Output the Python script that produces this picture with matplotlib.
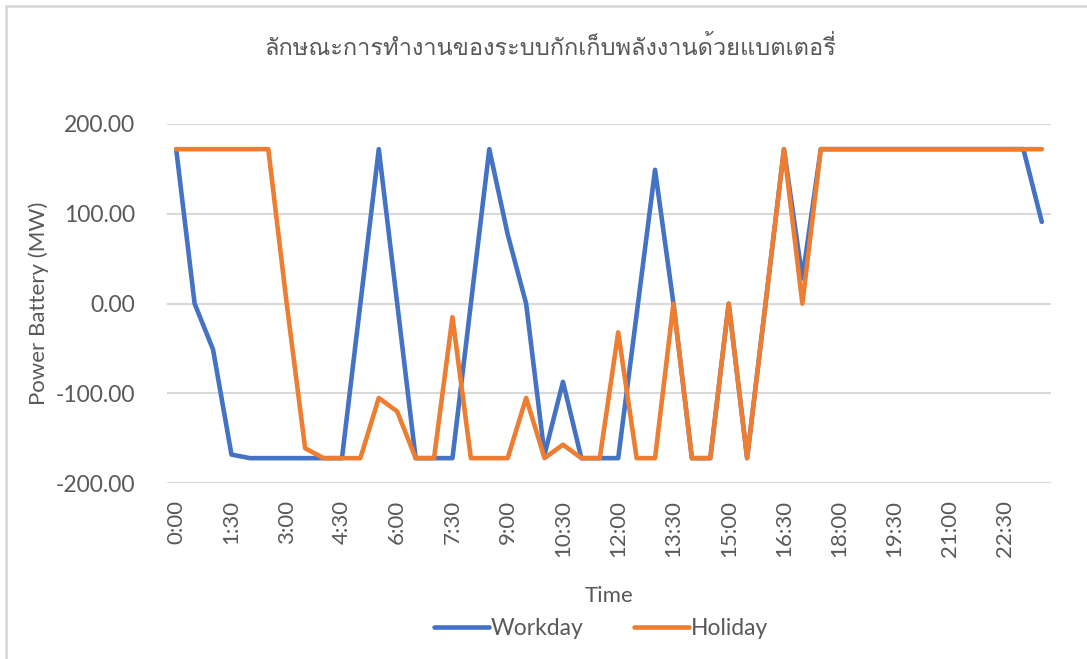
import numpy as np
import matplotlib
matplotlib.use('Agg')
import matplotlib.pyplot as plt
from matplotlib import font_manager
from matplotlib.ft2font import FT2Font
from matplotlib.patches import Rectangle

title = 'ลักษณะการทำงานของระบบกักเก็บพลังงานด้วยแบตเตอรี่'

# half-hour slots 0:00 .. 23:30
times = ['%d:%02d' % (h, m) for h in range(24) for m in (0, 30)]

workday = [172, 0, -51, -168, -172, -172, -172, -172, -172, -172,
           0, 172, 0, -172, -172, -172, 0, 172, 77, 0,
           -168, -87, -172, -172, -172, -12, 149, 0, -172, -172,
           0, -172, 0, 172, 28, 172, 172, 172, 172, 172,
           172, 172, 172, 172, 172, 172, 172, 91]

holiday = [172, 172, 172, 172, 172, 172, 0, -161, -172, -172,
           -172, -105, -120, -172, -172, -15, -172, -172, -172, -105,
           -172, -157, -172, -172, -32, -172, -172, 0, -172, -172,
           0, -172, 0, 172, 0, 172, 172, 172, 172, 172,
           172, 172, 172, 172, 172, 172, 172, 172]

yticks = [-200, -100, 0, 100, 200]


def family_with(ch):
    # first installed font that has a glyph for ch
    for f in font_manager.fontManager.ttflist:
        try:
            if ord(ch) in FT2Font(f.fname).get_charmap():
                return f.name
        except Exception:
            pass
    return 'DejaVu Sans'


thai = family_with('ล')
names = set(f.name for f in font_manager.fontManager.ttflist)
latin = 'Lato' if 'Lato' in names else 'DejaVu Sans'
plt.rcParams['font.family'] = [latin, 'DejaVu Sans']

grey = '#595959'
fig = plt.figure(figsize=(10.87, 6.59), dpi=100)
ax = fig.add_axes([167 / 1087, 1 - 483.3 / 659, 884 / 1087, (483.3 - 124) / 659])

x = np.arange(len(times))
ax.plot(x, workday, color='#4472C4', lw=3.3, solid_joinstyle='round', solid_capstyle='round', label='Workday')
ax.plot(x, holiday, color='#ED7D31', lw=3.3, solid_joinstyle='round', solid_capstyle='round', label='Holiday')

ax.set_xlim(-0.5, len(times) - 0.5)
ax.set_ylim(-200, 200)
ax.set_yticks(yticks)
ax.set_yticklabels(['%.2f' % v for v in yticks], fontsize=16.5, color=grey)
ax.set_xticks(x[::3])
ax.set_xticklabels(times[::3], rotation=90, fontsize=16, color=grey)
ax.tick_params(axis='y', length=0, pad=23)
ax.tick_params(axis='x', length=0, pad=12)
ax.grid(axis='y', color='#D9D9D9', lw=1.5)
for s in ax.spines.values():
    s.set_visible(False)
ax.set_axisbelow(True)

ax.set_ylabel('Power Battery (MW)', fontsize=16, color=grey, labelpad=5)
ax.set_xlabel('Time', fontsize=16, color=grey, labelpad=21)
fig.text(0.506, 0.927, title, ha='center', va='center', fontsize=17, color=grey,
         family=[thai, 'DejaVu Sans'])

fig.legend(loc='center', bbox_to_anchor=(0.553, 0.047), ncol=2, frameon=False,
           fontsize=16.5, labelcolor=grey, handlelength=2.4, handletextpad=0.1, columnspacing=2.2)

fig.patches.append(Rectangle((6 / 1087, -0.1), 1.2, 1.1 - 6 / 659, transform=fig.transFigure,
                             fill=False, ec='#D9D9D9', lw=2))
fig.savefig('out.png', dpi=100)
